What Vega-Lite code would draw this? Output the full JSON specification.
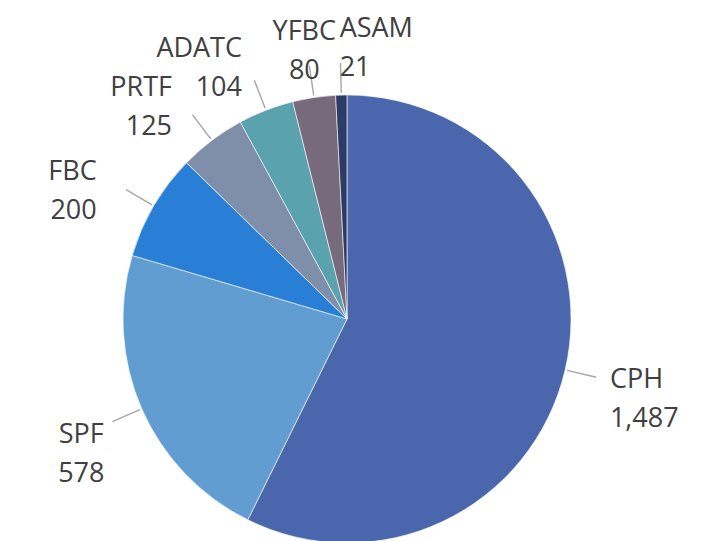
{
  "$schema": "https://vega.github.io/schema/vega-lite/v6.json",
  "width": 694,
  "height": 638,
  "autosize": "none",
  "padding": 0,
  "background": "white",
  "config": {"view": {"stroke": null}},
  "data": {
    "values": [
      {"name": "CPH", "value": 1487},
      {"name": "SPF", "value": 578},
      {"name": "FBC", "value": 200},
      {"name": "PRTF", "value": 125},
      {"name": "ADATC", "value": 104},
      {"name": "YFBC", "value": 80},
      {"name": "ASAM", "value": 21}
    ]
  },
  "transform": [
    {"window": [{"op": "sum", "field": "value", "as": "cum"}], "sort": [{"field": "value", "order": "descending"}]},
    {"joinaggregate": [{"op": "sum", "field": "value", "as": "total"}]},
    {"calculate": "datum.cum - datum.value / 2", "as": "mid"},
    {"calculate": "datum.name + '\\n' + format(datum.value, ',')", "as": "label"}
  ],
  "layer": [
    {
      "mark": {"type": "arc", "outerRadius": 224, "stroke": "white", "strokeWidth": 0.6},
      "encoding": {
        "theta": {"field": "value", "type": "quantitative", "stack": true},
        "order": {"field": "value", "type": "quantitative", "sort": "descending"},
        "color": {
          "field": "name",
          "type": "nominal",
          "scale": {
            "domain": ["CPH", "SPF", "FBC", "PRTF", "ADATC", "YFBC", "ASAM"],
            "range": ["#4A66AC", "#629DD1", "#297FD5", "#7F8FA9", "#5AA2AE", "#776A7A", "#2C3C66"]
          },
          "legend": null
        }
      }
    },
    {
      "mark": {"type": "arc", "innerRadius": 226, "outerRadius": 256, "filled": false, "color": "#a6a6a6", "strokeWidth": 1.4},
      "encoding": {
        "theta": {"field": "mid", "type": "quantitative", "stack": null},
        "theta2": {"field": "mid"}
      }
    },
    {
      "mark": {
        "type": "text",
        "radius": {"expr": "sin(2 * PI * datum.mid / datum.total) > 0.3 ? 270 : 290"},
        "fontSize": 27,
        "font": "Open Sans",
        "fill": "#404040",
        "lineBreak": "\n",
        "lineHeight": 39,
        "baseline": "middle",
        "align": {"expr": "datum.value < 50 || sin(2 * PI * datum.mid / datum.total) > 0.3 ? 'left' : (sin(2 * PI * datum.mid / datum.total) < -0.3 && cos(2 * PI * datum.mid / datum.total) > 0) ? 'right' : 'center'"}
      },
      "encoding": {
        "theta": {"field": "mid", "type": "quantitative", "stack": null},
        "text": {"field": "label", "type": "nominal"}
      }
    }
  ]
}
